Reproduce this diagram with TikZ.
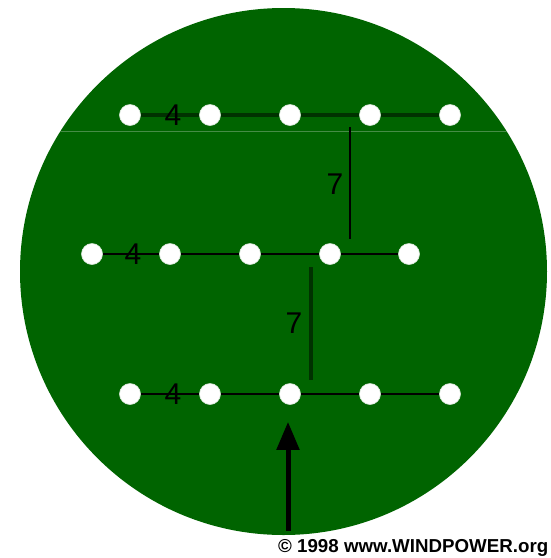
\documentclass[tikz,border=0pt]{standalone}
\usepackage{fontspec}
\setmainfont{Liberation Sans}
\usetikzlibrary{arrows.meta}
\definecolor{disc}{RGB}{0,100,0}
\definecolor{seam}{RGB}{70,140,70}
\definecolor{darkline}{RGB}{0,50,0}
\tikzset{
  dot/.style={circle,fill=white,draw=white!85!disc,line width=0.6pt,minimum size=21pt,inner sep=0pt},
  num/.style={font=\fontsize{30}{30}\selectfont,inner sep=0pt,text=black},
  rowline/.style={black,line width=1.8pt},
  toprow/.style={darkline,line width=4.5pt},
}
\begin{document}
\begin{tikzpicture}[x=1pt,y=-1pt]
\useasboundingbox (0,0) rectangle (550,558);
\fill[disc] (283.5,271.5) circle (263.5);
\begin{scope}
\clip (283.5,271.5) circle (263.5);
\draw[seam,line width=0.8pt] (0,131) -- (550,131);
\end{scope}
% dots
\foreach \i/\x in {1/130,2/210,3/290,4/370,5/450}{
  \node[dot] (t\i) at (\x,115) {};
  \node[dot] (b\i) at (\x,394) {};
}
\foreach \i/\x in {1/92,2/170,3/250,4/330,5/409}{
  \node[dot] (m\i) at (\x,254) {};
}
% row lines
\draw[toprow] (t1.east) -- (t2.west) (t2.east) -- (t3.west) (t3.east) -- (t4.west) (t4.east) -- (t5.west);
\draw[rowline] (m1.east) -- (m2.west) (m2.east) -- (m3.west) (m3.east) -- (m4.west) (m4.east) -- (m5.west);
\draw[rowline] (b1.east) -- (b2.west) (b2.east) -- (b3.west) (b3.east) -- (b4.west) (b4.east) -- (b5.west);
% labels 4
\node[num] (l1) at (173,115) {4};
\node[num] (l2) at (133,254) {4};
\node[num] (l3) at (173,394) {4};
% vertical spacing lines
\coordinate (v1a) at (350,127);
\coordinate (v1b) at (350,239);
\coordinate (v2a) at (311,267);
\coordinate (v2b) at (311,380);
\draw[black,line width=2.8pt] (v1a) -- (v1b);
\draw[darkline,line width=4.5pt] (v2a) -- (v2b);
\node[num] (s1) at (335,184) {7};
\node[num] (s2) at (294,323) {7};
% arrow
\coordinate (arrstart) at (288,531);
\draw[black,line width=5pt,-{Triangle[width=22pt,length=28pt]},shorten >=17pt] (arrstart) -- (b3.south -| arrstart);
% copyright
\node[anchor=west,inner sep=0pt] (copy) at (278,548)
  {\resizebox{270pt}{!}{\fontsize{18}{18}\selectfont\bfseries © 1998 www.WINDPOWER.org}};
\end{tikzpicture}
\end{document}
